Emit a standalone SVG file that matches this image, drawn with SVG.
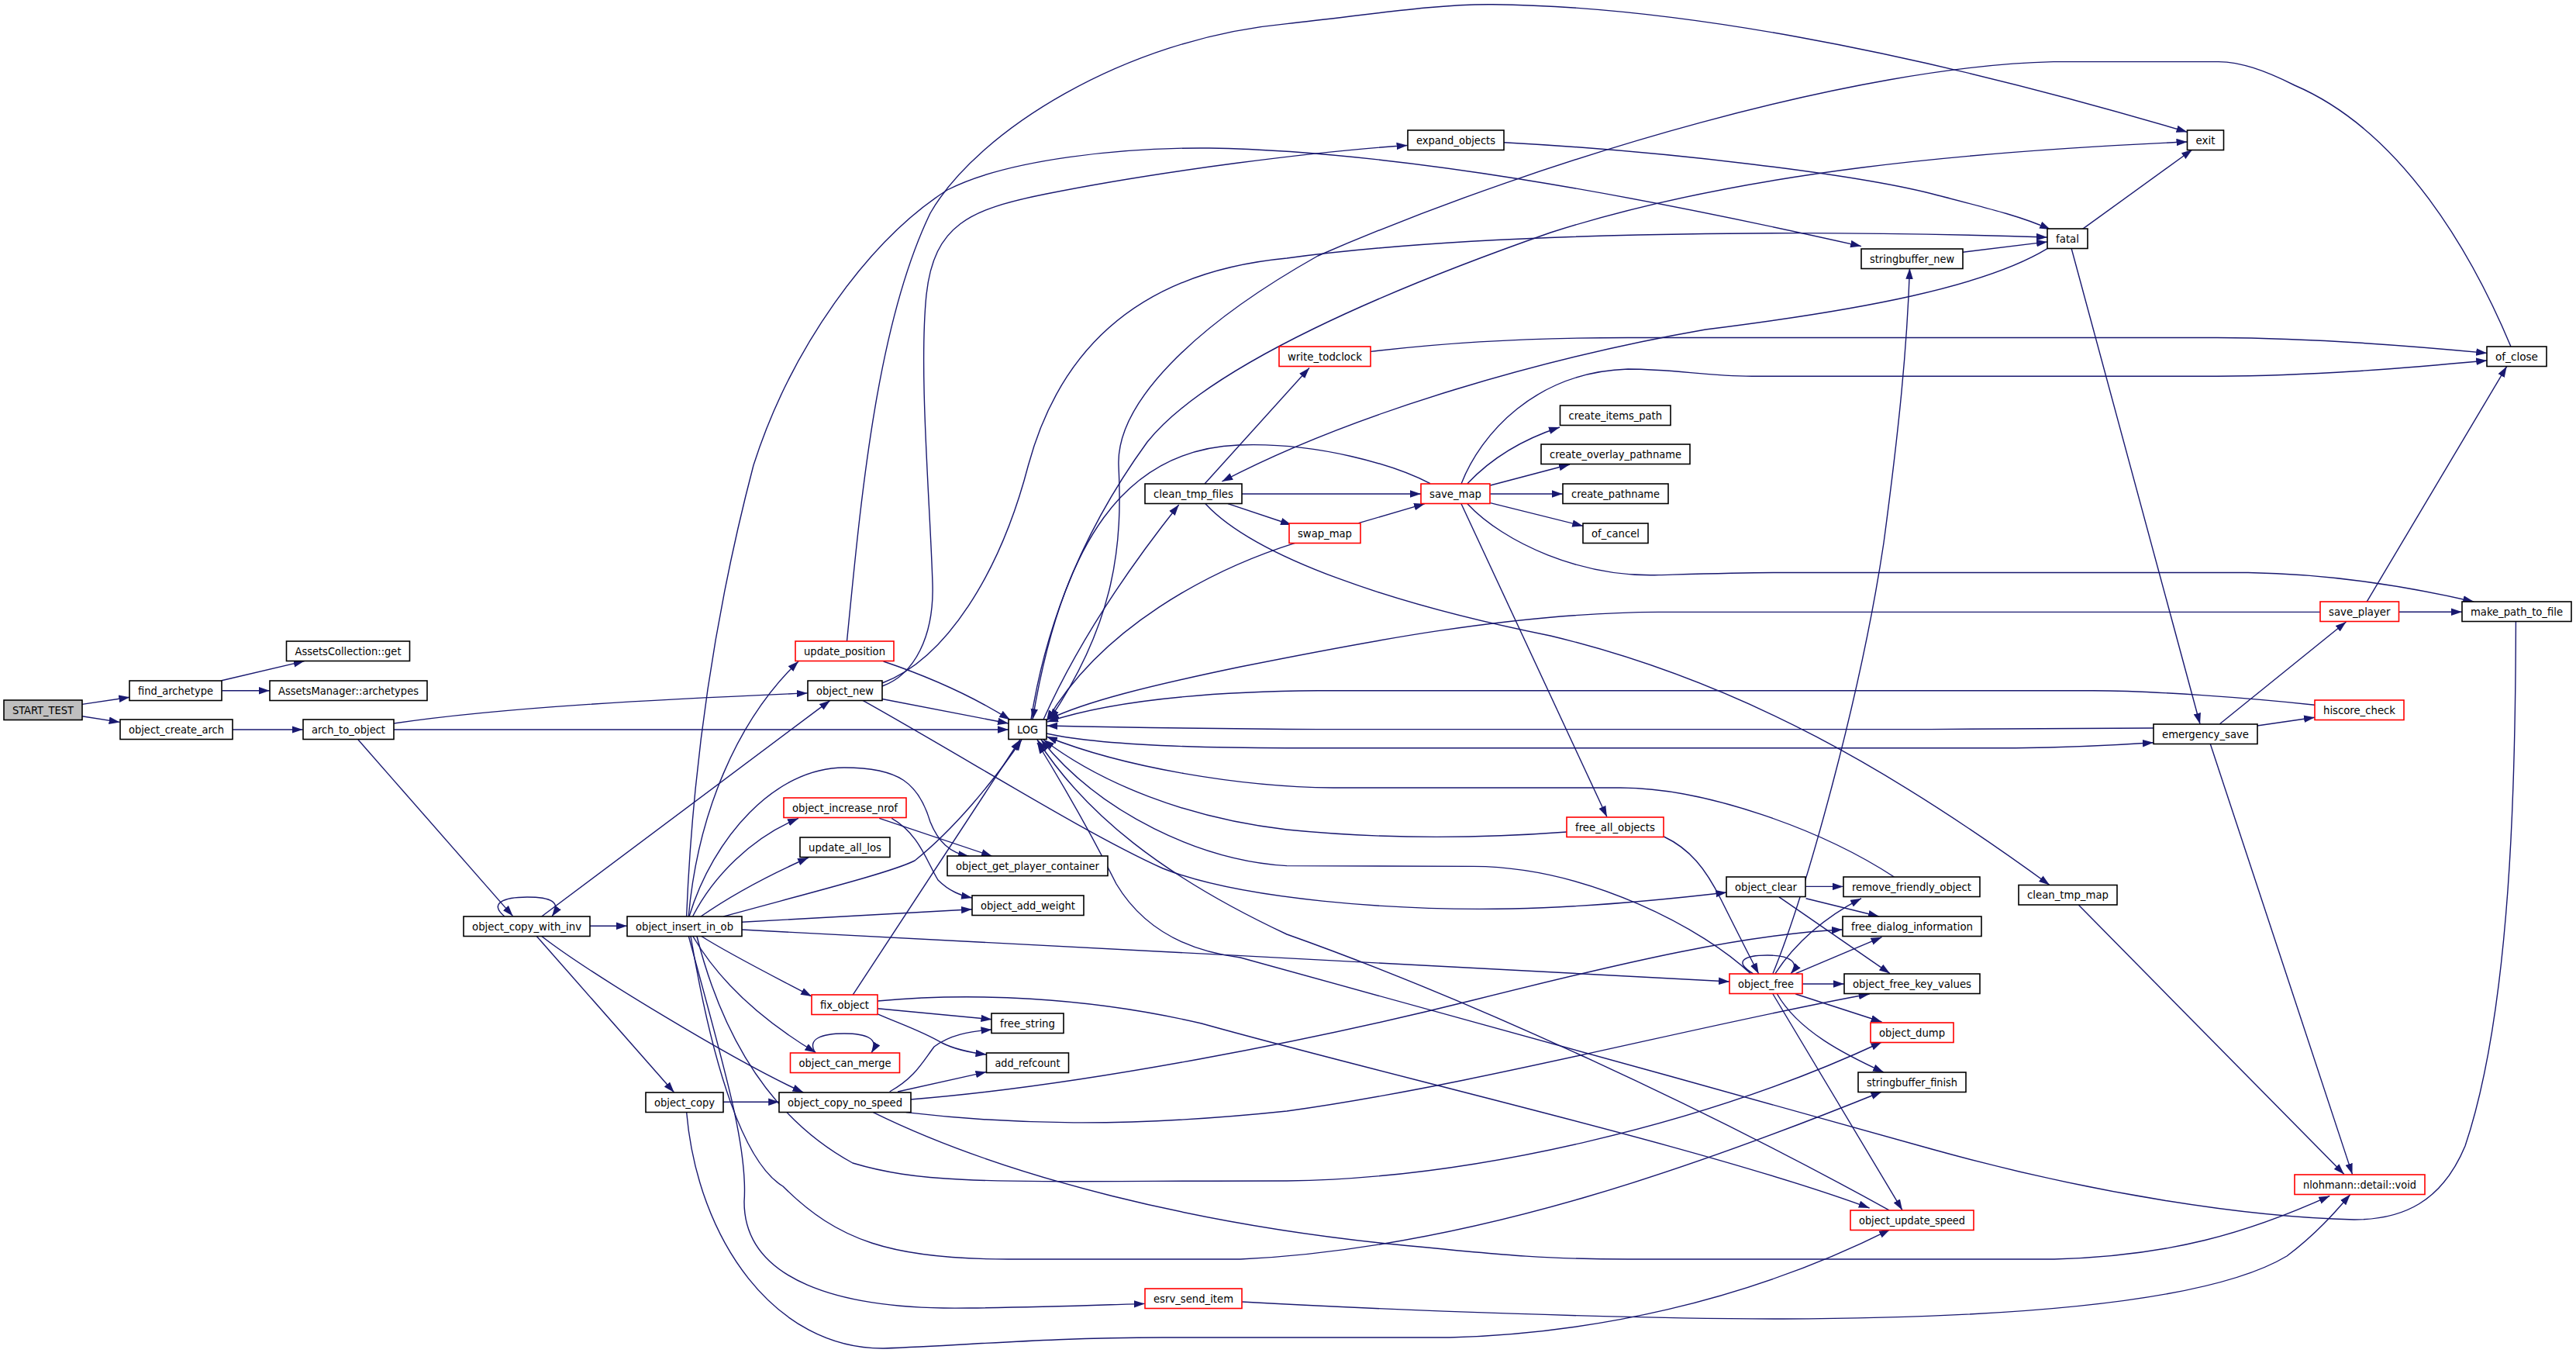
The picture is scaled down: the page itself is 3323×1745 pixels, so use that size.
<svg xmlns="http://www.w3.org/2000/svg" width="3323" height="1745" viewBox="0 0 3323 1745">
<style>
.n rect{fill:#fff;stroke:#000;stroke-width:1.6}
.r rect{fill:#fff;stroke:#ff0000;stroke-width:1.6}
.g rect{fill:#bfbfbf;stroke:#000;stroke-width:1.6}
text{font-family:'DejaVu Sans Condensed','DejaVu Sans',sans-serif;font-stretch:condensed;font-size:14.5px;text-anchor:middle;fill:#000}
.e path{fill:none;stroke:#191970;stroke-width:1.4;marker-end:url(#a)}
</style>
<defs>
<marker id="a" markerUnits="userSpaceOnUse" markerWidth="14" markerHeight="10" refX="14" refY="4.75" orient="auto" viewBox="0 0 14 9.5"><path d="M0,0 L14,4.75 L0,9.5 z" fill="#191970"/></marker>
</defs>
<rect width="3323" height="1745" fill="#fff"/>
<g class="e" id="edges">
<path d="M105.9,908.4 L167.3,899.2"/>
<path d="M105.9,923.7 L154.6,931.4"/>
<path d="M285.8,877.8 L392.7,852.6"/>
<path d="M286.4,890.8 L347.8,890.8"/>
<path d="M300,941 L390.6,941"/>
<path d="M508,933 C650,912 850,902 1041.7,893.9"/>
<path d="M508,941 L1301,941"/>
<path d="M462,954 L661.6,1181.6"/>
<path d="M651,1182 C630,1165 650,1157 680,1157 C710,1157 725,1163 712,1182"/>
<path d="M761,1194.3 L809,1194.3"/>
<path d="M698.7,1182 L1070.8,903.4"/>
<path d="M692.3,1207.5 L869.7,1409"/>
<path d="M698.7,1207.5 C760,1255 950,1370 1036.4,1409"/>
<path d="M885.6,1182 C895,950 930,760 972,600 C1020,450 1120,310 1222,245 C1300,205 1450,190 1560,191 C1800,195 2100,250 2401,317.6"/>
<path d="M1092.5,827 C1110,650 1130,420 1200,275 C1260,170 1450,50 1660,30.6 C1760,20 1850,5 1925,5.7 C2150,8 2450,60 2821.5,170.3"/>
<path d="M1138,885 C1180,870 1205,820 1203,753 C1200,650 1185,480 1195,380 C1205,290 1250,270 1350,250 C1500,220 1700,195 1815.6,187.5"/>
<path d="M1138,881 C1220,850 1290,740 1326.5,600 C1370,440 1480,350 1660,333 C1900,300 2300,295 2640.9,306"/>
<path d="M1138,901.5 L1301,933"/>
<path d="M1139.6,853 C1190,870 1250,895 1303,928.3"/>
<path d="M1113,903.4 C1250,980 1400,1075 1500,1120 C1600,1160 1800,1175 1950,1172 C2050,1170 2150,1160 2227.4,1151"/>
<path d="M1346,928 C1390,830 1450,740 1520.7,651"/>
<path d="M1601.7,637 L1833,637"/>
<path d="M1584,649.7 L1666,677"/>
<path d="M1752.6,674.6 L1838,649.7"/>
<path d="M1670.6,700.3 C1560,735 1420,810 1350,930"/>
<path d="M1554,624 L1689,474.5"/>
<path d="M1555,649.7 C1620,720 1800,780 2000,820 C2250,880 2450,1000 2644,1141.5"/>
<path d="M1768,453.4 C1850,444 1950,435.5 2100,435.5 L2860,435.5 C2980,436 3100,445 3208.2,455.4"/>
<path d="M1885,624 C1910,560 1980,480 2100,476 C2160,476 2200,485 2260,485.2 L2860,485.2 C2980,485 3100,475 3208.2,465"/>
<path d="M1892.9,623.7 C1920,595 1960,568 2012,551"/>
<path d="M1922.5,626 L2025,599"/>
<path d="M1922.5,637 L2015.7,637"/>
<path d="M1922.5,648.6 L2042.2,678.4"/>
<path d="M1885,649.7 L2072.9,1053.5"/>
<path d="M1892.9,649.7 C1940,700 2040,745 2140,741.6 C2200,740 2250,738.5 2300,738.5 L2900,738.5 C3000,740 3100,755 3191.2,776"/>
<path d="M1845,623.7 C1800,600 1700,570 1597.5,574 C1450,580 1370,700 1332,928"/>
<path d="M3239,447 C3190,330 3100,170 2960,110 C2920,90 2890,80 2861.8,79.6 L2649,79.6 C2400,85 2000,200 1700,330 C1540,420 1440,520 1443,600 C1448,700 1440,800 1354,928"/>
<path d="M1330,928 C1350,800 1400,680 1480,570 C1560,470 1800,370 2000,300 C2250,220 2550,195 2821.5,183"/>
<path d="M1350,946 C1400,957 1500,964.7 1660,964.7 L2600,964.7 C2680,964 2730,961 2777.9,957.8"/>
<path d="M2777.9,939 C2700,940 2600,940.6 2490,940.6 L1700,940.6 C1550,940 1450,938 1350.3,936"/>
<path d="M2986,909.2 C2900,900 2780,891 2700,890.8 L1700,890.8 C1550,892 1430,905 1351,931"/>
<path d="M2993,789.4 L2140,789.4 C1950,790 1750,830 1600,860 C1480,885 1400,905 1352,928"/>
<path d="M2443.4,1131 C2350,1070 2200,1016 2090,1016 L1720,1016 C1600,1015 1450,990 1350,950"/>
<path d="M2021,1073 C1900,1082 1780,1082 1660,1070 C1530,1055 1420,1010 1346,954"/>
<path d="M2258,1255.6 C2200,1200 2050,1118 1900,1117.4 L1660,1116.6 C1550,1110 1420,1050 1343,954"/>
<path d="M2437,1560.8 C2200,1430 1900,1290 1660,1205 C1500,1130 1400,1050 1338,954"/>
<path d="M3245.4,802 C3245,1000 3240,1300 3180,1478 C3150,1550 3100,1573 3037,1573 C2900,1570 2700,1540 2490,1481.5 C2200,1400 1800,1290 1600,1235 C1520,1225 1470,1190 1440,1140 C1410,1080 1370,1010 1338,958"/>
<path d="M2641,320.7 C2560,370 2400,400 2200,425 C2000,460 1750,530 1576.3,621"/>
<path d="M1940,183.7 C2150,195 2400,225 2500,252 C2570,270 2610,280 2645,296"/>
<path d="M2532,325.3 L2641,311.9"/>
<path d="M2686.5,295.4 L2828,193"/>
<path d="M2672.2,320.7 L2838,933.7"/>
<path d="M2863.4,933.7 L3026.5,802"/>
<path d="M2911.8,936 L2986,925.3"/>
<path d="M2851.2,959.3 L3034.5,1514.6"/>
<path d="M2681.2,1167 L3023.9,1514.6"/>
<path d="M3053,776.4 L3233.7,472.6"/>
<path d="M3094.5,789.2 L3176,789.2"/>
<path d="M2287,1255.6 C2330,1150 2400,900 2430,700 C2450,550 2460,450 2463.5,346"/>
<path d="M2262,1256 C2235,1240 2250,1232 2280,1232 C2310,1232 2322,1242 2310,1256"/>
<path d="M2146.4,1079 C2180,1095 2200,1120 2220,1160 C2240,1200 2255,1230 2268.7,1256"/>
<path d="M2290,1255.6 C2320,1210 2360,1180 2401,1158.7"/>
<path d="M2316.3,1255.6 L2427.5,1208.7"/>
<path d="M2325.4,1269 L2378.8,1269"/>
<path d="M2316.3,1282 L2427.5,1318"/>
<path d="M2292.5,1282 C2320,1330 2380,1360 2430,1383"/>
<path d="M2287,1282 L2454,1560.8"/>
<path d="M2329.6,1143.4 L2377.7,1143.4"/>
<path d="M2329.6,1158.7 L2424,1182"/>
<path d="M2295,1156.8 L2438,1255.6"/>
<path d="M957,1199 C1300,1215 1900,1250 2231,1266"/>
<path d="M1174.6,1418 C1400,1400 1700,1340 1900,1290 C2100,1240 2250,1205 2376.7,1199"/>
<path d="M1168.8,1434.6 C1300,1450 1450,1455 1660,1433 C1900,1400 2200,1320 2411.6,1282"/>
<path d="M898.8,1207 C930,1330 990,1440 1100,1500 C1200,1530 1300,1523 1660,1523 C1900,1520 2200,1450 2427.5,1344"/>
<path d="M1126.4,1434.6 C1300,1520 1550,1580 1800,1605 C1950,1620 2000,1624 2100,1624 L2650,1624 C2800,1620 2900,1590 3005.3,1542.4"/>
<path d="M890.9,1207 C920,1380 960,1500 1010,1530 C1080,1600 1150,1624 1300,1624 L1600,1624 C1900,1610 2200,1500 2427.5,1408"/>
<path d="M888.2,1207 C935,1380 965,1480 960,1550 C960,1650 1080,1690 1250,1687 C1350,1686 1420,1683 1476.8,1681.4"/>
<path d="M1602.2,1679 C1800,1690 2100,1701 2300,1701 C2600,1700 2850,1680 2950,1620 C2990,1590 3015,1560 3031.8,1540.6"/>
<path d="M885.6,1434 C900,1600 1000,1740 1140,1739 C1250,1735 1350,1725 1500,1725 L1870,1725 C2050,1720 2250,1680 2438,1585.8"/>
<path d="M933.2,1421.2 L1005.2,1421.2"/>
<path d="M1147.6,1408 C1180,1390 1190,1370 1205,1350 C1225,1335 1250,1330 1279.4,1328"/>
<path d="M1158,1408 L1272.5,1382.5"/>
<path d="M1132.2,1300.8 L1279.4,1314.7"/>
<path d="M1132.2,1307.8 C1160,1320 1190,1330 1215,1345 C1235,1355 1255,1358 1272.5,1360"/>
<path d="M1100,1283.4 L1316,954"/>
<path d="M1132.2,1291 C1250,1280 1400,1285 1550,1320 C1800,1390 2200,1480 2411.6,1558"/>
<path d="M904,1207 C940,1230 990,1255 1047,1285"/>
<path d="M893.5,1207 C930,1270 990,1320 1052.3,1357.5"/>
<path d="M1052,1358 C1040,1340 1060,1333 1089,1333 C1118,1333 1135,1340 1124,1358"/>
<path d="M904,1182 C950,1150 1000,1125 1043,1106"/>
<path d="M893.5,1182 C920,1130 970,1080 1030,1055.4"/>
<path d="M888.2,1182 C900,1050 950,930 1030,853"/>
<path d="M889,1182 C920,1080 1000,990 1089,990 C1160,990 1185,1010 1200,1060 C1210,1085 1225,1100 1250,1104.3"/>
<path d="M933.2,1182 C1050,1150 1150,1125 1180,1110 C1230,1070 1280,1010 1318,954"/>
<path d="M957,1189.3 L1254,1172.8"/>
<path d="M1134.3,1055.4 L1280,1104.3"/>
<path d="M1150.2,1055.4 C1185,1075 1195,1110 1210,1135 C1225,1150 1240,1155 1254,1158"/>
</g>
<g id="n_start" class="g"><rect x="5" y="903" width="101" height="25.5"/><text x="55.5" y="920.8" textLength="79" lengthAdjust="spacingAndGlyphs">START_TEST</text></g>
<g id="n_find" class="n"><rect x="167" y="878" width="119" height="25.5"/><text x="226.5" y="895.8" textLength="97" lengthAdjust="spacingAndGlyphs">find_archetype</text></g>
<g id="n_acget" class="n"><rect x="369.5" y="827" width="159" height="25.5"/><text x="449" y="844.8" textLength="137" lengthAdjust="spacingAndGlyphs">AssetsCollection::get</text></g>
<g id="n_amarch" class="n"><rect x="348" y="878" width="203" height="25.5"/><text x="449.5" y="895.8" textLength="181" lengthAdjust="spacingAndGlyphs">AssetsManager::archetypes</text></g>
<g id="n_oca" class="n"><rect x="155" y="928" width="145" height="25.5"/><text x="227.5" y="945.8" textLength="123" lengthAdjust="spacingAndGlyphs">object_create_arch</text></g>
<g id="n_ato" class="n"><rect x="391" y="928" width="117" height="25.5"/><text x="449.5" y="945.8" textLength="95" lengthAdjust="spacingAndGlyphs">arch_to_object</text></g>
<g id="n_ocwi" class="n"><rect x="598" y="1182" width="163" height="25.5"/><text x="679.5" y="1199.8" textLength="141" lengthAdjust="spacingAndGlyphs">object_copy_with_inv</text></g>
<g id="n_oiio" class="n"><rect x="809" y="1182" width="148" height="25.5"/><text x="883" y="1199.8" textLength="126" lengthAdjust="spacingAndGlyphs">object_insert_in_ob</text></g>
<g id="n_oc" class="n"><rect x="833" y="1409" width="100" height="25.5"/><text x="883" y="1426.8" textLength="78" lengthAdjust="spacingAndGlyphs">object_copy</text></g>
<g id="n_ocns" class="n"><rect x="1005" y="1409" width="170" height="25.5"/><text x="1090" y="1426.8" textLength="148" lengthAdjust="spacingAndGlyphs">object_copy_no_speed</text></g>
<g id="n_up" class="r"><rect x="1026" y="827" width="127" height="25.5"/><text x="1089.5" y="844.8" textLength="105" lengthAdjust="spacingAndGlyphs">update_position</text></g>
<g id="n_on" class="n"><rect x="1042" y="878" width="96" height="25.5"/><text x="1090" y="895.8" textLength="74" lengthAdjust="spacingAndGlyphs">object_new</text></g>
<g id="n_log" class="n"><rect x="1301" y="928" width="49" height="25.5"/><text x="1325.5" y="945.8" textLength="27" lengthAdjust="spacingAndGlyphs">LOG</text></g>
<g id="n_oin" class="r"><rect x="1011" y="1029" width="158" height="25.5"/><text x="1090" y="1046.8" textLength="136" lengthAdjust="spacingAndGlyphs">object_increase_nrof</text></g>
<g id="n_ual" class="n"><rect x="1032" y="1080" width="116" height="25.5"/><text x="1090" y="1097.8" textLength="94" lengthAdjust="spacingAndGlyphs">update_all_los</text></g>
<g id="n_ogpc" class="n"><rect x="1222" y="1104" width="207" height="25.5"/><text x="1325.5" y="1121.8" textLength="185" lengthAdjust="spacingAndGlyphs">object_get_player_container</text></g>
<g id="n_oaw" class="n"><rect x="1254" y="1155" width="144" height="25.5"/><text x="1326" y="1172.8" textLength="122" lengthAdjust="spacingAndGlyphs">object_add_weight</text></g>
<g id="n_fo" class="r"><rect x="1047" y="1283" width="85" height="25.5"/><text x="1089.5" y="1300.8" textLength="63" lengthAdjust="spacingAndGlyphs">fix_object</text></g>
<g id="n_fs" class="n"><rect x="1279" y="1307" width="93" height="25.5"/><text x="1325.5" y="1324.8" textLength="71" lengthAdjust="spacingAndGlyphs">free_string</text></g>
<g id="n_ocm" class="r"><rect x="1019.5" y="1358" width="141" height="25.5"/><text x="1090" y="1375.8" textLength="119" lengthAdjust="spacingAndGlyphs">object_can_merge</text></g>
<g id="n_ar" class="n"><rect x="1272.5" y="1358" width="106" height="25.5"/><text x="1325.5" y="1375.8" textLength="84" lengthAdjust="spacingAndGlyphs">add_refcount</text></g>
<g id="n_esi" class="r"><rect x="1477" y="1662" width="125" height="25.5"/><text x="1539.5" y="1679.8" textLength="103" lengthAdjust="spacingAndGlyphs">esrv_send_item</text></g>
<g id="n_eo" class="n"><rect x="1816" y="168" width="124" height="25.5"/><text x="1878" y="185.8" textLength="102" lengthAdjust="spacingAndGlyphs">expand_objects</text></g>
<g id="n_ctf" class="n"><rect x="1477" y="624" width="125" height="25.5"/><text x="1539.5" y="641.8" textLength="103" lengthAdjust="spacingAndGlyphs">clean_tmp_files</text></g>
<g id="n_wt" class="r"><rect x="1650" y="447" width="118" height="25.5"/><text x="1709" y="464.8" textLength="96" lengthAdjust="spacingAndGlyphs">write_todclock</text></g>
<g id="n_sm" class="r"><rect x="1663" y="675" width="92" height="25.5"/><text x="1709" y="692.8" textLength="70" lengthAdjust="spacingAndGlyphs">swap_map</text></g>
<g id="n_svm" class="r"><rect x="1833" y="624" width="89" height="25.5"/><text x="1877.5" y="641.8" textLength="67" lengthAdjust="spacingAndGlyphs">save_map</text></g>
<g id="n_cip" class="n"><rect x="2012.5" y="523" width="142.5" height="25.5"/><text x="2083.75" y="540.8" textLength="120.5" lengthAdjust="spacingAndGlyphs">create_items_path</text></g>
<g id="n_cop" class="n"><rect x="1988" y="573" width="192" height="25.5"/><text x="2084" y="590.8" textLength="170" lengthAdjust="spacingAndGlyphs">create_overlay_pathname</text></g>
<g id="n_cp" class="n"><rect x="2016" y="624" width="136" height="25.5"/><text x="2084" y="641.8" textLength="114" lengthAdjust="spacingAndGlyphs">create_pathname</text></g>
<g id="n_ofc" class="n"><rect x="2042" y="675" width="84" height="25.5"/><text x="2084" y="692.8" textLength="62" lengthAdjust="spacingAndGlyphs">of_cancel</text></g>
<g id="n_fao" class="r"><rect x="2021" y="1054" width="125" height="25.5"/><text x="2083.5" y="1071.8" textLength="103" lengthAdjust="spacingAndGlyphs">free_all_objects</text></g>
<g id="n_ocl" class="n"><rect x="2227" y="1131" width="102" height="25.5"/><text x="2278" y="1148.8" textLength="80" lengthAdjust="spacingAndGlyphs">object_clear</text></g>
<g id="n_rfo" class="n"><rect x="2378" y="1131" width="176" height="25.5"/><text x="2466" y="1148.8" textLength="154" lengthAdjust="spacingAndGlyphs">remove_friendly_object</text></g>
<g id="n_fdi" class="n"><rect x="2377" y="1182" width="179" height="25.5"/><text x="2466.5" y="1199.8" textLength="157" lengthAdjust="spacingAndGlyphs">free_dialog_information</text></g>
<g id="n_of" class="r"><rect x="2231" y="1256" width="94" height="25.5"/><text x="2278" y="1273.8" textLength="72" lengthAdjust="spacingAndGlyphs">object_free</text></g>
<g id="n_ofkv" class="n"><rect x="2379" y="1256" width="175" height="25.5"/><text x="2466.5" y="1273.8" textLength="153" lengthAdjust="spacingAndGlyphs">object_free_key_values</text></g>
<g id="n_od" class="r"><rect x="2413" y="1319" width="107" height="25.5"/><text x="2466.5" y="1336.8" textLength="85" lengthAdjust="spacingAndGlyphs">object_dump</text></g>
<g id="n_sbf" class="n"><rect x="2397" y="1383" width="139" height="25.5"/><text x="2466.5" y="1400.8" textLength="117" lengthAdjust="spacingAndGlyphs">stringbuffer_finish</text></g>
<g id="n_ous" class="r"><rect x="2387" y="1561" width="159" height="25.5"/><text x="2466.5" y="1578.8" textLength="137" lengthAdjust="spacingAndGlyphs">object_update_speed</text></g>
<g id="n_sbn" class="n"><rect x="2401" y="321" width="131" height="25.5"/><text x="2466.5" y="338.8" textLength="109" lengthAdjust="spacingAndGlyphs">stringbuffer_new</text></g>
<g id="n_fatal" class="n"><rect x="2641" y="295" width="52" height="25.5"/><text x="2667" y="312.8" textLength="30" lengthAdjust="spacingAndGlyphs">fatal</text></g>
<g id="n_exit" class="n"><rect x="2821.5" y="168" width="47" height="25.5"/><text x="2845" y="185.8" textLength="25" lengthAdjust="spacingAndGlyphs">exit</text></g>
<g id="n_ofcl" class="n"><rect x="3208" y="447" width="77" height="25.5"/><text x="3246.5" y="464.8" textLength="55" lengthAdjust="spacingAndGlyphs">of_close</text></g>
<g id="n_sp" class="r"><rect x="2993" y="776" width="101.5" height="25.5"/><text x="3043.75" y="793.8" textLength="79.5" lengthAdjust="spacingAndGlyphs">save_player</text></g>
<g id="n_mptf" class="n"><rect x="3176" y="776" width="141" height="25.5"/><text x="3246.5" y="793.8" textLength="119" lengthAdjust="spacingAndGlyphs">make_path_to_file</text></g>
<g id="n_hc" class="r"><rect x="2986" y="903" width="115" height="25.5"/><text x="3043.5" y="920.8" textLength="93" lengthAdjust="spacingAndGlyphs">hiscore_check</text></g>
<g id="n_es" class="n"><rect x="2778" y="934" width="134" height="25.5"/><text x="2845" y="951.8" textLength="112" lengthAdjust="spacingAndGlyphs">emergency_save</text></g>
<g id="n_ctm" class="n"><rect x="2604" y="1141.5" width="127" height="25.5"/><text x="2667.5" y="1159.3" textLength="105" lengthAdjust="spacingAndGlyphs">clean_tmp_map</text></g>
<g id="n_nl" class="r"><rect x="2960" y="1515" width="168" height="25.5"/><text x="3044" y="1532.8" textLength="146" lengthAdjust="spacingAndGlyphs">nlohmann::detail::void</text></g>
</svg>
